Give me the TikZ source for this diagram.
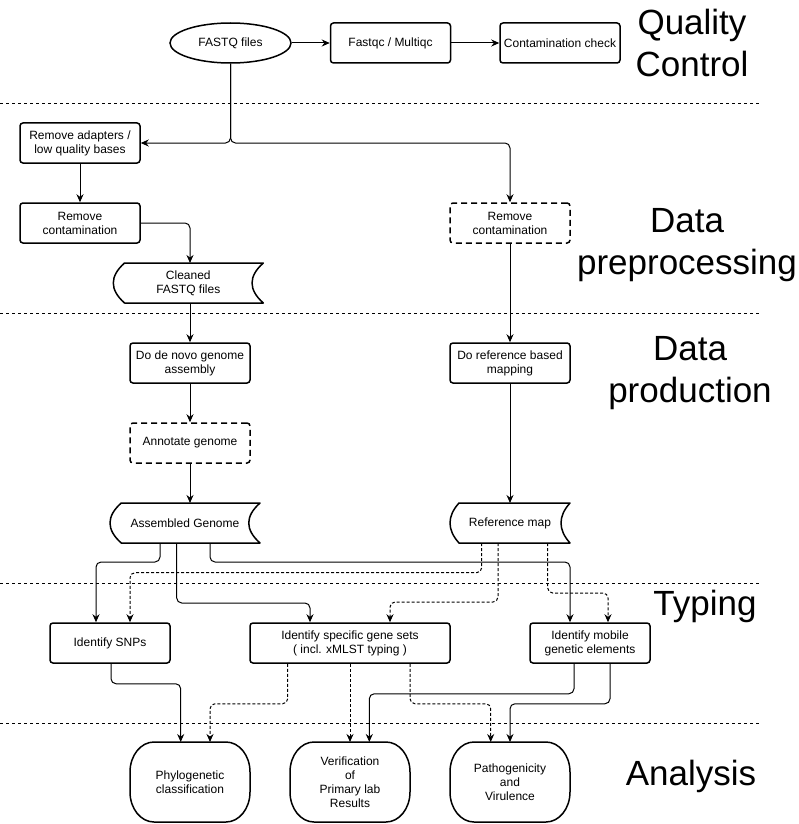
\documentclass[tikz,border=0pt]{standalone}
\usepackage{fontspec}
\setmainfont{Liberation Sans}
\usetikzlibrary{shapes.geometric,arrows.meta,calc}
\newcommand\storedata[2]{%
  \draw[shapeline] ($(#1.north west)+(#2,0)$) -- (#1.north east)
    .. controls ($(#1.north east)+(-4/3*#2,-13.33)$) and ($(#1.south east)+(-4/3*#2,13.33)$) .. (#1.south east)
    -- ($(#1.south west)+(#2,0)$)
    .. controls ($(#1.south west)+(-#2/3,13.33)$) and ($(#1.north west)+(-#2/3,-13.33)$) .. ($(#1.north west)+(#2,0)$) -- cycle;}
\newcommand\termshape[1]{%
  \draw[shapeline] ($(#1.north west)+(24,0)$) -- ($(#1.north east)+(-24,0)$)
   arc[start angle=90,end angle=0,x radius=24pt,y radius=30pt] -- ($(#1.south east)+(0,30)$)
   arc[start angle=0,end angle=-90,x radius=24pt,y radius=30pt] -- ($(#1.south west)+(24,0)$)
   arc[start angle=270,end angle=180,x radius=24pt,y radius=30pt] -- ($(#1.north west)+(0,-30)$)
   arc[start angle=180,end angle=90,x radius=24pt,y radius=30pt] -- cycle;}
\begin{document}
\begin{tikzpicture}[x=1pt,y=1pt,
  every node/.style={font=\fontsize{12}{14}\selectfont},
  box/.style={draw,rectangle,line width=1.5pt,rounded corners=3pt,minimum width=120pt,minimum height=40pt,inner sep=0pt,align=center},
  dbox/.style={box,dash pattern=on 6pt off 4pt},
  ell/.style={draw,ellipse,line width=1.5pt,minimum width=121pt,minimum height=40pt,inner sep=0pt},
  store/.style={rectangle,minimum height=40pt,inner sep=0pt,outer sep=0pt,align=center},
  term/.style={rectangle,minimum width=120pt,minimum height=80pt,inner sep=0pt,outer sep=0pt,align=center},
  conn/.style={line width=1pt,rounded corners=5pt,-{Stealth[length=8pt,width=7pt]}},
  dconn/.style={conn,dash pattern=on 3pt off 2pt},
  sepline/.style={line width=0.8pt,dash pattern=on 3pt off 3pt},
  biglabel/.style={font=\fontsize{35}{42}\selectfont,align=center,inner sep=0pt},
  shapeline/.style={line width=1.5pt,line join=round}
]
\fill[white] (0,0) rectangle (799,-824);
\useasboundingbox (0,0) rectangle (799,-824);

% section separators
\draw[sepline] (0,-103) -- (760,-103);
\draw[sepline] (0,-313) -- (760,-313);
\draw[sepline] (0,-583) -- (760,-583);
\draw[sepline] (0,-723) -- (760,-723);

% section labels
\node[biglabel] (lqc) at (692,-43.25) {Quality\\Control};
\node[biglabel] (ldp) at (687,-245.15) {Data\\preprocessing};
\node[biglabel] (ldpr) at (690,-373) {Data\\production};
\node[biglabel,anchor=base] (lty) at (705,-615) {Typing};
\node[biglabel,anchor=base] (lan) at (691,-785) {Analysis};

% nodes
\node[ell] (fastq) at (230.5,-43) {FASTQ files};
\node[box] (fastqc) at (390.5,-43) {Fastqc / Multiqc};
\node[box] (contam) at (560,-43) {Contamination check};
\node[box] (adapters) at (80,-143) {Remove adapters /\\low quality bases};
\node[box] (rmcont1) at (80,-223) {Remove\\contamination};
\node[store,minimum width=150pt] (cleaned) at (188.3,-283) {Cleaned\\FASTQ files};
\node[dbox] (rmcont2) at (510,-223) {Remove\\contamination};
\node[box] (denovo) at (190,-363) {Do de novo genome\\assembly};
\node[box] (refmapping) at (510,-363) {Do reference based\\mapping};
\node[dbox] (annotate) at (190,-443) {Annotate genome};
\node[store,minimum width=150pt] (assembled) at (185,-523) {Assembled Genome};
\node[store,minimum width=120pt] (refmap) at (510,-523) {Reference map};
\node[box] (snps) at (110,-643) {Identify SNPs};
\node[box,minimum width=200pt] (genesets) at (350,-643) {Identify specific gene sets\\( incl. xMLST typing )};
\node[box] (mobile) at (590,-643) {Identify mobile\\genetic elements};
\node[term] (phylo) at (190,-782) {Phylogenetic\\classification};
\node[term] (verif) at (350,-782) {Verification\\of\\Primary lab\\Results};
\node[term] (patho) at (510,-782) {Pathogenicity\\and\\Virulence};

\storedata{cleaned}{11.25}
\storedata{assembled}{11.25}
\storedata{refmap}{9}
\termshape{phylo}
\termshape{verif}
\termshape{patho}

% connectors
\draw[conn] (fastq.east) -- (fastqc.west);
\draw[conn] (fastqc.east) -- (contam.west);
\draw[conn] (fastq.south) |- (adapters.east);
\draw[conn] (fastq.south) |- (rmcont2.north |- adapters.east) -- (rmcont2.north);
\draw[conn] (adapters.south) -- (rmcont1.north);
\draw[conn] (rmcont1.east) -| (denovo.north |- cleaned.north);
\draw[conn] (rmcont2.south) -- (refmapping.north);
\draw[conn] (denovo.north |- cleaned.south) -- (denovo.north);
\draw[conn] (denovo.south) -- (annotate.north);
\draw[conn] (annotate.south) -- (annotate.south |- assembled.north);
\draw[conn] (refmapping.south) -- (refmap.north);

\draw[conn] ([xshift=-25pt]assembled.south) -- ++(0,-19) -| ([xshift=-14pt]snps.north);
\draw[conn] ([xshift=-8.3pt]assembled.south) -- ++(0,-60) -| ([xshift=-40pt]genesets.north);
\draw[conn] ([xshift=25pt]assembled.south) -- ++(0,-19) -| ([xshift=-20pt]mobile.north);
\draw[dconn] ([xshift=-28.3pt]refmap.south) -- ++(0,-29.7) -| ([xshift=20pt]snps.north);
\draw[dconn] ([xshift=-12pt]refmap.south) -- ++(0,-59) -| ([xshift=40pt]genesets.north);
\draw[dconn] ([xshift=37.7pt]refmap.south) -- ++(0,-50) -| ([xshift=18pt]mobile.north);

\draw[conn] ([xshift=1pt]snps.south) -- ++(0,-20) -| ([xshift=-9.3pt]phylo.north);
\draw[dconn] ([xshift=-62.3pt]genesets.south) -- ++(0,-40) -| ([xshift=20pt]phylo.north);
\draw[dconn] (genesets.south) -- (verif.north);
\draw[dconn] ([xshift=60pt]genesets.south) -- ++(0,-40) -| ([xshift=-19.3pt]patho.north);
\draw[conn] ([xshift=-16pt]mobile.south) -- ++(0,-30) -| ([xshift=19.3pt]verif.north);
\draw[conn] ([xshift=20pt]mobile.south) -- ++(0,-40) -| (patho.north);
\end{tikzpicture}
\end{document}
